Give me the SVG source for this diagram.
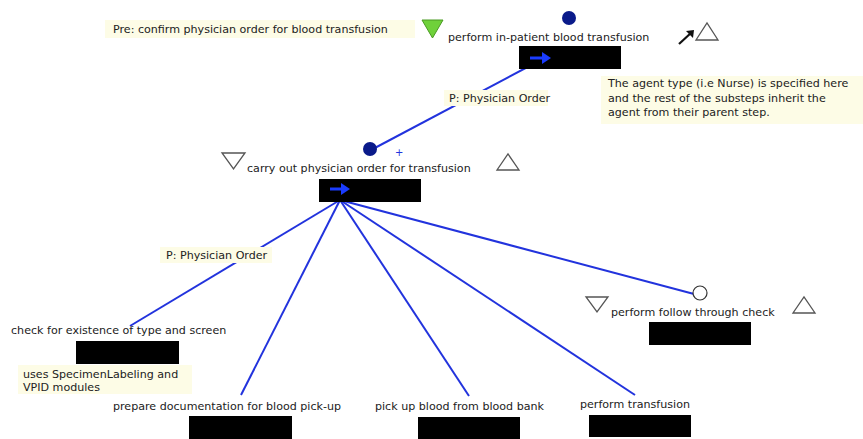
<svg xmlns="http://www.w3.org/2000/svg" width="863" height="439" viewBox="0 0 863 439">
<style>
text{font-family:"DejaVu Sans","Liberation Sans",sans-serif;font-size:11.1px;fill:#222}
.note{fill:#fdfce6}
.box{fill:#000}
.conn{stroke:#2233dd;stroke-width:2;fill:none}
.tri{fill:#fff;stroke:#555;stroke-width:1.3}
.dot{fill:#0a1a8a}
.arr{stroke:#1a3cff;stroke-width:3;fill:none}
.ah{fill:#1a3cff}
</style>
<rect width="863" height="439" fill="#fff"/>
<g id="connectors">
<line class="conn" x1="537" y1="62" x2="371" y2="150"/>
<line class="conn" x1="340" y1="200" x2="130" y2="326"/>
<line class="conn" x1="340" y1="200" x2="241" y2="395"/>
<line class="conn" x1="340" y1="200" x2="469" y2="396"/>
<line class="conn" x1="340" y1="200" x2="635" y2="395"/>
<line class="conn" x1="340" y1="200" x2="694" y2="294"/>
</g>
<g id="pre-label">
<rect class="note" x="105" y="20" width="310" height="18"/>
<text x="113" y="33">Pre: confirm physician order for blood transfusion</text>
</g>
<g id="n-perform-inpatient">
<polygon points="422,20 443,20 432.5,38" fill="#6fd13a" stroke="#4a9a22" stroke-width="1"/>
<circle class="dot" cx="569" cy="18" r="7"/>
<text x="448" y="41">perform in-patient blood transfusion</text>
<rect class="box" x="519" y="46" width="102" height="23"/>
<line class="arr" x1="530" y1="58" x2="544" y2="58"/>
<polygon class="ah" points="542,52 551,58 542,64"/>
<line x1="679" y1="44" x2="692" y2="32" stroke="#111" stroke-width="2.2"/>
<polygon points="686,31 694,30 693,38" fill="#111"/>
<polygon class="tri" points="696,40 718,40 707,23"/>
</g>
<g id="agent-note">
<rect class="note" x="601" y="76" width="262" height="48"/>
<text x="608" y="87">The agent type (i.e Nurse) is specified here</text>
<text x="608" y="102">and the rest of the substeps inherit the</text>
<text x="608" y="116">agent from their parent step.</text>
</g>
<g id="label-p1">
<rect class="note" x="444" y="90" width="104" height="16"/>
<text x="449" y="102">P: Physician Order</text>
</g>
<g id="n-carry-out">
<circle class="dot" cx="370" cy="149" r="7"/>
<text x="395" y="156" style="fill:#2233dd;font-size:10px">+</text>
<polygon class="tri" points="222,153 245,153 233.5,169"/>
<text x="247" y="172">carry out physician order for transfusion</text>
<polygon class="tri" points="497,170 519,170 508,154"/>
<rect class="box" x="319" y="179" width="102" height="23"/>
<line class="arr" x1="330" y1="189" x2="343" y2="189"/>
<polygon class="ah" points="341,183 350,189 341,195"/>
</g>
<g id="label-p2">
<rect class="note" x="160" y="247" width="112" height="16"/>
<text x="166" y="259">P: Physician Order</text>
</g>
<g id="n-check">
<text x="11" y="334">check for existence of type and screen</text>
<rect class="box" x="76" y="341" width="103" height="23"/>
</g>
<g id="note-specimen">
<rect class="note" x="18" y="365" width="174" height="29"/>
<text x="23" y="378">uses SpecimenLabeling and</text>
<text x="23" y="391">VPID modules</text>
</g>
<g id="n-prepare">
<text x="113" y="410">prepare documentation for blood pick-up</text>
<rect class="box" x="189" y="416" width="103" height="23"/>
</g>
<g id="n-pickup">
<text x="375" y="410">pick up blood from blood bank</text>
<rect class="box" x="418" y="417" width="102" height="22"/>
</g>
<g id="n-transfusion">
<text x="580" y="408">perform transfusion</text>
<rect class="box" x="589" y="415" width="102" height="22"/>
</g>
<g id="n-follow">
<circle cx="700" cy="293" r="7" fill="#fff" stroke="#333" stroke-width="1.2"/>
<polygon class="tri" points="586,297 608,297 597,312"/>
<text x="611" y="316">perform follow through check</text>
<polygon class="tri" points="793,313 815,313 804,297"/>
<rect class="box" x="649" y="322" width="102" height="23"/>
</g>
</svg>
